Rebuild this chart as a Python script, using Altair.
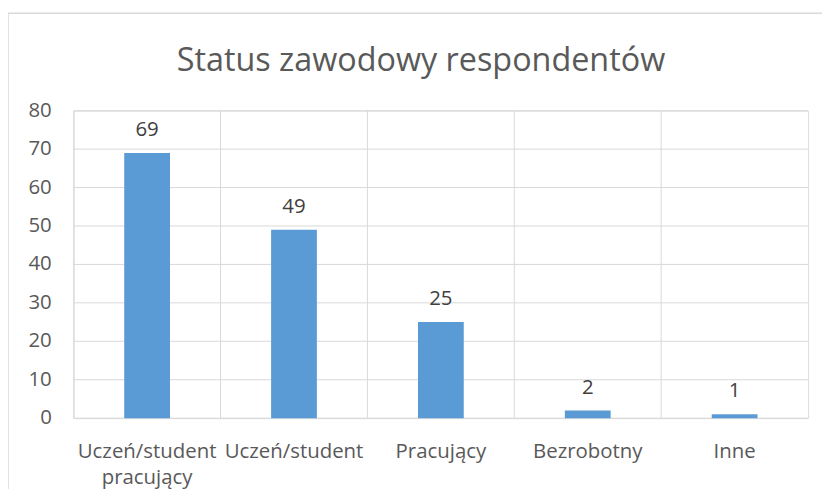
import altair as alt
import pandas as pd

categories = ["Uczeń/student pracujący", "Uczeń/student", "Pracujący", "Bezrobotny", "Inne"]
values = [69, 49, 25, 2, 1]
y_ticks = [0, 10, 20, 30, 40, 50, 60, 70, 80]
chart_title = "Status zawodowy respondentów"

df = pd.DataFrame({"status": categories, "liczba": values})
ticks_df = pd.DataFrame({"liczba": y_ticks})
title_df = pd.DataFrame({"t": [chart_title]})

FONT = "Open Sans"
TXT = "#595959"
GRID = "#D9D9D9"

x_axis = alt.Axis(
    labelAngle=0,
    labelAlign="center",
    labelFont=FONT,
    labelFontSize=20.5,
    labelColor=TXT,
    labelPadding=24,
    labelLineHeight=26,
    labelBaseline="top",
    labelExpr="datum.label == 'Uczeń/student pracujący' ? ['Uczeń/student', 'pracujący'] : datum.label",
    labelLimit=300,
    ticks=False,
    domain=False,
    grid=False,
)
x_scale = alt.Scale(paddingInner=0, paddingOuter=0)
y_scale = alt.Scale(domain=[0, 80], nice=False)


def xe(**kw):
    return alt.X("status:N", sort=categories, title=None, scale=x_scale, axis=x_axis, **kw)


def ye():
    return alt.Y("liczba:Q", title=None, scale=y_scale, axis=None)


base = alt.Chart(df)

border = alt.Chart(title_df).mark_rect(fill=None, stroke=GRID, strokeWidth=1.5).encode(
    x=alt.value(-66), x2=alt.value(760), y=alt.value(-98), y2=alt.value(420)
)

title_mark = alt.Chart(title_df).mark_text(
    font=FONT, fontSize=32.5, color=TXT, baseline="alphabetic", align="center"
).encode(x=alt.value(349), y=alt.value(-40), text="t:N")

hgrid = alt.Chart(ticks_df).mark_rule(color=GRID, strokeWidth=1).encode(
    y=ye(), x=alt.value(0), x2=alt.value(738)
)

ylabels = alt.Chart(ticks_df).mark_text(
    font=FONT, fontSize=20.5, color=TXT, align="right", baseline="middle"
).encode(y=ye(), x=alt.value(-22), text="liczba:Q")

bars = base.mark_bar(color="#5B9BD5", size=46).encode(x=xe(), y=ye())

vgrid = base.mark_rule(color=GRID, strokeWidth=1).encode(x=xe(bandPosition=0))

labels = base.mark_text(
    font=FONT, fontSize=20.5, color="#404040", dy=-13, baseline="bottom"
).encode(x=xe(), y=ye(), text="liczba:Q")

chart = (
    alt.layer(border, title_mark, hgrid, vgrid, bars, labels, ylabels)
    .properties(
        width=738,
        height=309,
        autosize=alt.AutoSizeParams(type="none"),
        padding={"left": 66, "top": 102, "right": 14, "bottom": 70},
    )
    .configure_view(stroke=GRID, strokeWidth=1)
    .configure(background="white")
)

chart.save("out.html", embed_options={"renderer": "svg", "actions": False})
